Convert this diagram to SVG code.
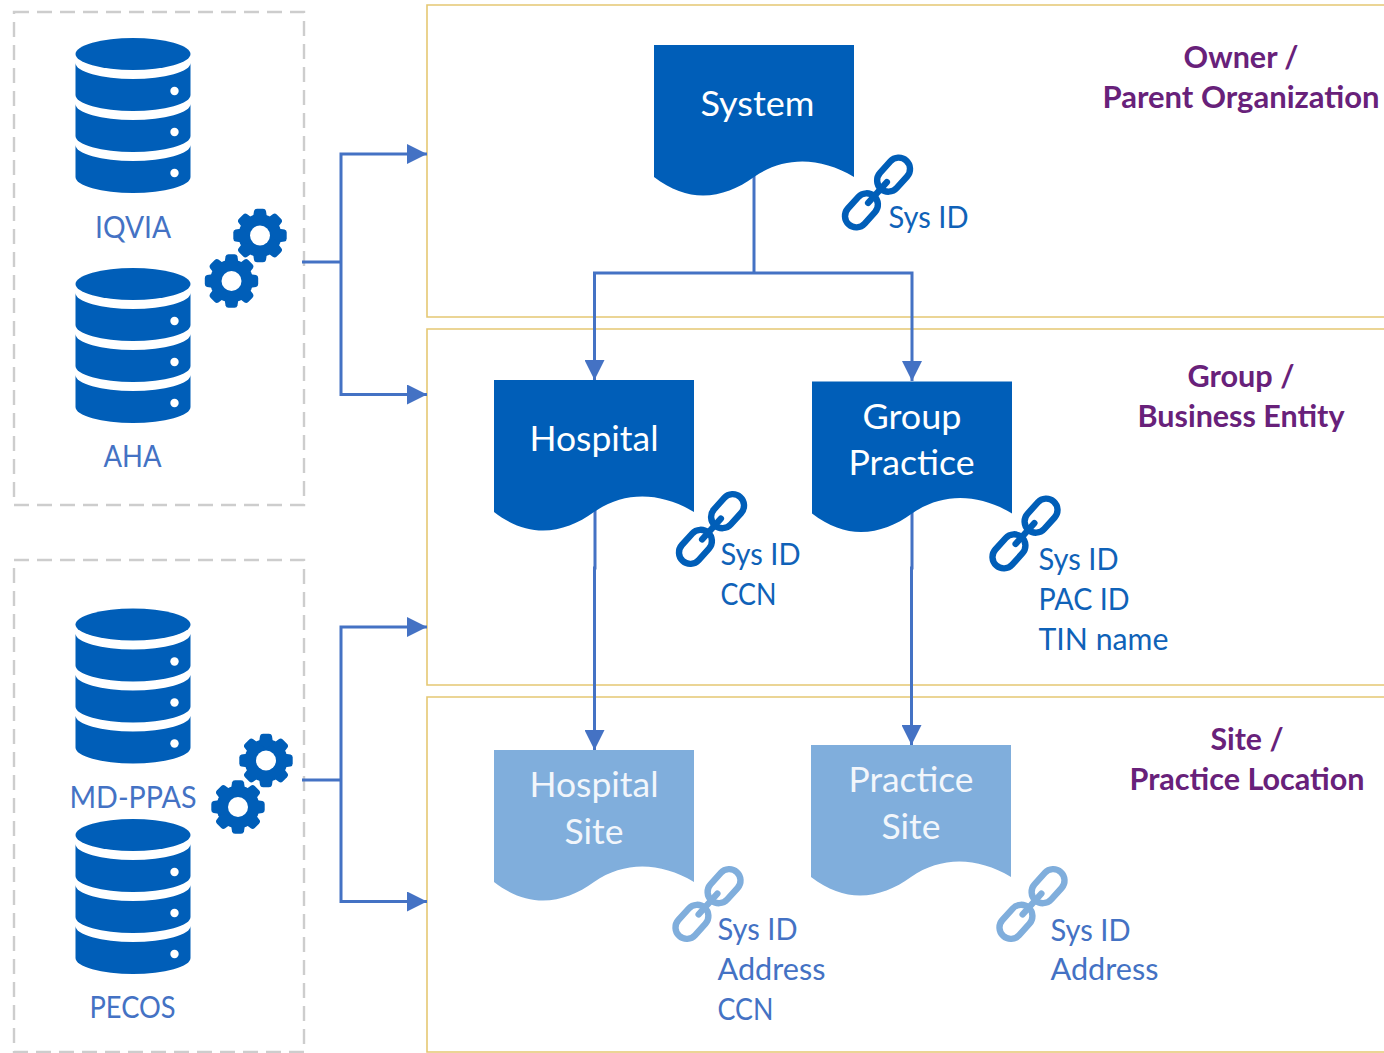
<svg xmlns="http://www.w3.org/2000/svg" width="1384" height="1053" viewBox="0 0 1384 1053">
<style>
text{font-family:"Lato","Open Sans","Liberation Sans",sans-serif}
.panel{fill:none;stroke:#E5C873;stroke-width:1.6}
.dash{fill:none;stroke:#CDCDCD;stroke-width:2.4;stroke-dasharray:15 8}
.c{fill:none;stroke:#4472C4;stroke-width:3}
.lbl{font-size:30px;fill:#4472C4}
.id{font-size:30px;fill:#0F62B8}
.idl{font-size:30px;fill:#4472C4}
.doc{font-size:34px;fill:#fff}
.sitet{font-size:34px;fill:#F2F6FB}
.h{font-size:30px;font-weight:700;fill:#68217A}
</style>
<defs>
<marker id="ah" markerUnits="userSpaceOnUse" markerWidth="20" markerHeight="20" refX="20" refY="10" orient="auto"><path d="M0 0L20 10L0 20Z" fill="#4472C4"/></marker>
<g id="db"><ellipse cx="57.5" cy="16" rx="57.5" ry="16"/><path d="M0 25A57.5 16 0 0 0 115 25V57A57.5 16 0 0 1 0 57Z"/><path d="M0 66A57.5 16 0 0 0 115 66V98A57.5 16 0 0 1 0 98Z"/><path d="M0 107A57.5 16 0 0 0 115 107V139A57.5 16 0 0 1 0 139Z"/><circle cx="99" cy="53" r="4.2" fill="#fff"/><circle cx="99" cy="94" r="4.2" fill="#fff"/><circle cx="99" cy="135" r="4.2" fill="#fff"/></g>
<path id="tooth" d="M-9.500 0L-6 -24.500Q-5.500 -26.700 -3 -26.700H3Q5.500 -26.700 6 -24.500L9.500 0L6 24.500Q5.500 26.700 3 26.700H-3Q-5.500 26.700 -6 24.500Z"/>
<g id="gear"><circle r="21.5"/><use href="#tooth"/><use href="#tooth" transform="rotate(45)"/><use href="#tooth" transform="rotate(90)"/><use href="#tooth" transform="rotate(135)"/><circle r="10" fill="#fff"/></g>
<g id="chain" fill="none" stroke-width="6.4" stroke-linecap="round"><g transform="rotate(-48)"><rect x="5" y="-11.300" width="38" height="22.600" rx="11.300"/><rect x="-43" y="-11.300" width="38" height="22.600" rx="11.300"/><path d="M-14 0H14"/></g></g>
<path id="wave" d="M0 0H200V132C166 112 131 111 100 132C71 153 36 160 0 132Z"/>
</defs>
<g id="panels">
<path class="panel" d="M1384 5H427V317H1384"/>
<path class="panel" d="M1384 329H427V685H1384"/>
<path class="panel" d="M1384 697H427V1052H1384"/>
<rect class="dash" x="14" y="12" width="290" height="493"/>
<rect class="dash" x="14" y="560" width="290" height="492"/>
</g>
<g id="connectors">
<path class="c" d="M302 262H341"/>
<path class="c" d="M341 262V154H427" marker-end="url(#ah)"/>
<path class="c" d="M341 262V394.500H427" marker-end="url(#ah)"/>
<path class="c" d="M302 780H341"/>
<path class="c" d="M341 780V627H427" marker-end="url(#ah)"/>
<path class="c" d="M341 780V901.500H427" marker-end="url(#ah)"/>
<path class="c" d="M754 175V273"/>
<path class="c" d="M754 273H594.500V380" marker-end="url(#ah)"/>
<path class="c" d="M754 273H912V381" marker-end="url(#ah)"/>
<path class="c" d="M595 510V568H594.500V750" marker-end="url(#ah)"/>
<path class="c" d="M912 510V568H911.500V745" marker-end="url(#ah)"/>
</g>
<g id="iqvia"><use href="#db" x="75.500" y="38" fill="#005EB8"/><text class="lbl" x="95" y="238" textLength="76" lengthAdjust="spacingAndGlyphs">IQVIA</text></g>
<g id="aha"><use href="#db" x="75.500" y="268" fill="#005EB8"/><text class="lbl" x="103.500" y="467" textLength="58" lengthAdjust="spacingAndGlyphs">AHA</text></g>
<g id="mdppas"><use href="#db" x="75.500" y="608.500" fill="#005EB8"/><text class="lbl" x="69.500" y="807.500" textLength="127" lengthAdjust="spacingAndGlyphs">MD-PPAS</text></g>
<g id="pecos"><use href="#db" x="75.500" y="819" fill="#005EB8"/><text class="lbl" x="89.500" y="1017.500" textLength="86" lengthAdjust="spacingAndGlyphs">PECOS</text></g>
<g id="gears-top" fill="#005EB8"><use href="#gear" transform="translate(260,235.500)"/><use href="#gear" transform="translate(231.500,281)"/></g>
<g id="gears-bottom" fill="#005EB8"><use href="#gear" transform="translate(266,760.500)"/><use href="#gear" transform="translate(238,807)"/></g>
<g id="system"><use href="#wave" x="654" y="45" fill="#005EB8"/><text class="doc" x="700.500" y="116" textLength="114" lengthAdjust="spacingAndGlyphs">System</text><use href="#chain" transform="translate(877.500,192.500)" stroke="#005EB8"/><text class="id" x="888.500" y="228" textLength="80" lengthAdjust="spacingAndGlyphs">Sys ID</text></g>
<g id="hospital"><use href="#wave" x="494" y="380" fill="#005EB8"/><text class="doc" x="529.500" y="450.500" textLength="129" lengthAdjust="spacingAndGlyphs">Hospital</text><use href="#chain" transform="translate(711.500,529)" stroke="#005EB8"/><text class="id" x="720.500" y="565" textLength="80" lengthAdjust="spacingAndGlyphs">Sys ID</text><text class="id" x="720.500" y="605" textLength="56" lengthAdjust="spacingAndGlyphs">CCN</text></g>
<g id="group-practice"><use href="#wave" x="812" y="381.500" fill="#005EB8"/><text class="doc" x="862.500" y="429" textLength="99" lengthAdjust="spacingAndGlyphs">Group</text><text class="doc" x="848.500" y="475" textLength="126" lengthAdjust="spacingAndGlyphs">Practice</text><use href="#chain" transform="translate(1025,533.500)" stroke="#005EB8"/><text class="id" x="1038.500" y="570" textLength="80" lengthAdjust="spacingAndGlyphs">Sys ID</text><text class="id" x="1038.500" y="610" textLength="91" lengthAdjust="spacingAndGlyphs">PAC ID</text><text class="id" x="1038.500" y="650" textLength="130" lengthAdjust="spacingAndGlyphs">TIN name</text></g>
<g id="hospital-site"><use href="#wave" x="494" y="750" fill="#80AEDC"/><text class="sitet" x="529.500" y="797" textLength="129" lengthAdjust="spacingAndGlyphs">Hospital</text><text class="sitet" x="564.500" y="843.500" textLength="59" lengthAdjust="spacingAndGlyphs">Site</text><use href="#chain" transform="translate(708,904)" stroke="#80AEDC"/><text class="idl" x="717.500" y="940" textLength="80" lengthAdjust="spacingAndGlyphs">Sys ID</text><text class="idl" x="717.500" y="980" textLength="108" lengthAdjust="spacingAndGlyphs">Address</text><text class="idl" x="717.500" y="1020" textLength="56" lengthAdjust="spacingAndGlyphs">CCN</text></g>
<g id="practice-site"><use href="#wave" x="811" y="745" fill="#80AEDC"/><text class="sitet" x="848.500" y="792" textLength="125" lengthAdjust="spacingAndGlyphs">Practice</text><text class="sitet" x="881.500" y="838.500" textLength="59" lengthAdjust="spacingAndGlyphs">Site</text><use href="#chain" transform="translate(1032,904)" stroke="#80AEDC"/><text class="idl" x="1050.500" y="940.500" textLength="80" lengthAdjust="spacingAndGlyphs">Sys ID</text><text class="idl" x="1050.500" y="980" textLength="108" lengthAdjust="spacingAndGlyphs">Address</text></g>
<g id="level-owner"><text class="h" x="1183.500" y="68" textLength="115" lengthAdjust="spacingAndGlyphs">Owner /</text><text class="h" x="1102.500" y="108" textLength="277" lengthAdjust="spacingAndGlyphs">Parent Organization</text></g>
<g id="level-group"><text class="h" x="1187.500" y="387" textLength="107" lengthAdjust="spacingAndGlyphs">Group /</text><text class="h" x="1137.500" y="427" textLength="207" lengthAdjust="spacingAndGlyphs">Business Entity</text></g>
<g id="level-site"><text class="h" x="1210.500" y="750" textLength="73" lengthAdjust="spacingAndGlyphs">Site /</text><text class="h" x="1129.500" y="790" textLength="235" lengthAdjust="spacingAndGlyphs">Practice Location</text></g>
</svg>
